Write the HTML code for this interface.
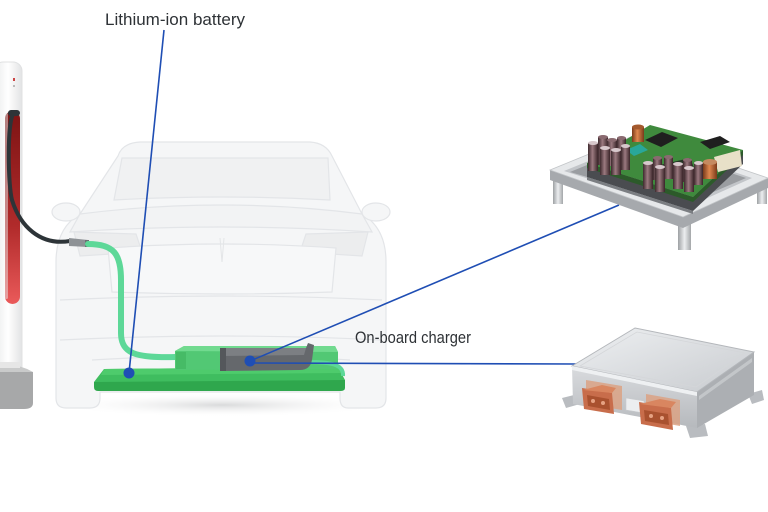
<!DOCTYPE html>
<html><head><meta charset="utf-8"><style>
html,body{margin:0;padding:0;background:#fff;}
svg{display:block;}
</style></head><body>
<svg width="768" height="512" viewBox="0 0 768 512" xmlns="http://www.w3.org/2000/svg">
<defs>
<linearGradient id="pole" x1="0" x2="1" y1="0" y2="0">
<stop offset="0" stop-color="#e9eaeb"/><stop offset="0.5" stop-color="#ffffff"/><stop offset="1" stop-color="#e2e3e4"/>
</linearGradient>
<linearGradient id="slot" x1="0" x2="0" y1="0" y2="1">
<stop offset="0" stop-color="#7d1414"/><stop offset="0.6" stop-color="#b12b2b"/><stop offset="1" stop-color="#ea5a5a"/>
</linearGradient>
<linearGradient id="leg" x1="0" x2="1"><stop offset="0" stop-color="#9da0a3"/><stop offset="0.5" stop-color="#eceef0"/><stop offset="1" stop-color="#a3a6a9"/></linearGradient>
<linearGradient id="cap" x1="0" x2="1"><stop offset="0" stop-color="#3e2a2e"/><stop offset="0.45" stop-color="#9c7a80"/><stop offset="1" stop-color="#3a2529"/></linearGradient>
<linearGradient id="ocap" x1="0" x2="1"><stop offset="0" stop-color="#7a3a1a"/><stop offset="0.45" stop-color="#e0884f"/><stop offset="1" stop-color="#7a3a1a"/></linearGradient>
<linearGradient id="boxtop" x1="0" x2="1" y1="0" y2="1"><stop offset="0" stop-color="#eef0f2"/><stop offset="1" stop-color="#c8cbcf"/></linearGradient>
<linearGradient id="boxfront" x1="0" x2="0" y1="0" y2="1"><stop offset="0" stop-color="#d9dbde"/><stop offset="1" stop-color="#b6b9bd"/></linearGradient>
<radialGradient id="shadow" cx="0.5" cy="0.5" r="0.5"><stop offset="0" stop-color="#d9dadb"/><stop offset="1" stop-color="#ffffff" stop-opacity="0"/></radialGradient>
</defs>

<!-- car shadow -->
<ellipse cx="222" cy="405" rx="170" ry="12" fill="url(#shadow)"/>

<!-- car (faint) -->
<g stroke="#e3e5e8" stroke-width="1.2" fill="#f5f6f7">
<path d="M118 156 Q122 143 140 142 L310 142 Q326 143 332 156 L362 214 Q386 228 386 262 L386 398 Q386 408 376 408 L348 408 Q340 408 340 398 L340 392 L100 392 L100 398 Q100 408 90 408 L66 408 Q56 408 56 398 L56 262 Q56 228 80 214 Z"/>
<path d="M122 158 L328 158 L330 200 Q222 194 114 200 Z" fill="#f0f1f2"/>
<path d="M80 214 Q222 196 362 214 L372 232 Q222 222 70 232 Z" fill="#f2f3f4"/>
<ellipse cx="66" cy="212" rx="14" ry="9"/>
<ellipse cx="376" cy="212" rx="14" ry="9"/>
<path d="M74 232 L136 234 L142 252 L80 256 Z" fill="#ecedee"/>
<path d="M306 234 L368 232 L362 256 L300 252 Z" fill="#ecedee"/>
<path d="M108 248 Q222 240 336 248 L332 292 Q222 296 112 292 Z" fill="#f7f8f9"/>
<path d="M60 300 Q222 292 382 300" fill="none"/>
<path d="M60 340 Q222 332 382 340" fill="none"/>
<path d="M92 360 Q222 352 350 360" fill="none"/>
</g>
<path d="M220 238 L222 262 L224 238" fill="none" stroke="#e3e5e7"/>

<!-- charging pole -->
<rect x="-6" y="62" width="28" height="318" rx="9" fill="url(#pole)" stroke="#e0e1e2"/>
<rect x="13" y="78" width="2" height="3" fill="#c44"/>
<rect x="13" y="85" width="2" height="2" fill="#bbb"/>
<rect x="5" y="111" width="15" height="193" rx="7.5" fill="url(#slot)"/>
<rect x="5" y="113" width="3" height="186" rx="1.5" fill="#e8e8e8" opacity="0.5"/>
<path d="M-2 372 L33 372 L33 403 Q33 409 24 409 L-2 409 Z" fill="#a7a8a9"/>
<path d="M-2 366 Q16 362 33 372 L-2 372 Z" fill="#c9caca"/>
<rect x="-2" y="362" width="22" height="6" fill="#e6e6e6"/>

<!-- black cable -->
<path d="M13 114 C7 125 8 185 12 200 C20 226 40 246 70 241" fill="none" stroke="#2d3438" stroke-width="4" stroke-linecap="round"/>
<rect x="8" y="110" width="12" height="6" rx="3" fill="#2d3438"/>
<!-- connector -->
<path d="M69 238 L88 240 L88 247 L69 246 Z" fill="#8e9296"/>
<rect x="85" y="240" width="4" height="7" fill="#6b6f73"/>

<!-- green cable -->
<path d="M88 244 C114 244 121 254 121 280 L121 333 C121 354 136 358 176 357" fill="none" stroke="#5dd898" stroke-width="6" stroke-linecap="round"/>

<!-- battery plate -->
<path d="M104 369 L338 367 L345 380 L345 388 L96 390 L94 382 Z" fill="#3fbd5f"/>
<path d="M94 382 L345 380 L345 388 Q345 391 340 391 L98 391 Q94 391 94 387 Z" fill="#2fa74d"/>
<path d="M104 369 L338 367 L342 373 L101 375 Z" fill="#4ecb6c"/>
<!-- raised block -->
<path d="M175 351 L184 346 L335 346 L338 352 L338 369 L175 370 Z" fill="#52c874"/>
<path d="M175 351 L184 346 L335 346 L338 352 Z" fill="#71da8f"/>
<rect x="176" y="352" width="10" height="17" fill="#46bb66"/>
<path d="M308 362 C330 362 344 364 343 376" fill="none" stroke="#5dd898" stroke-width="4"/>
<!-- gray module -->
<path d="M220 348 L306 348 L308 343 L314 345 L312 360 Q310 370 300 370 L222 371 Q220 371 220 367 Z" fill="#65686c"/>
<path d="M220 348 L306 348 L304 355 L222 356 Z" fill="#7c7f83"/>
<rect x="220" y="348" width="6" height="23" fill="#54575b"/>

<!-- leader lines -->
<g stroke="#1f4eb4" stroke-width="1.6" fill="none">
<line x1="164" y1="30" x2="129" y2="373"/>
<line x1="250" y1="361" x2="619" y2="205"/>
<line x1="250" y1="363" x2="578" y2="364"/>
</g>
<circle cx="129" cy="373" r="5.5" fill="#1f4eb4"/>
<circle cx="250" cy="361" r="5.5" fill="#1f4eb4"/>

<!-- labels -->
<text x="105" y="25" font-family="Liberation Sans, Arial, sans-serif" font-size="17" fill="#2e3236" textLength="140" lengthAdjust="spacingAndGlyphs">Lithium-ion battery</text>
<text x="355" y="343" font-family="Liberation Sans, Arial, sans-serif" font-size="16.5" fill="#2e3236" textLength="116" lengthAdjust="spacingAndGlyphs">On-board charger</text>

<!-- PCB module (top right) -->
<g>
<!-- legs -->
<rect x="553" y="176" width="10" height="28" fill="url(#leg)"/>
<rect x="678" y="222" width="13" height="28" fill="url(#leg)"/>
<rect x="757" y="182" width="10" height="22" fill="url(#leg)"/>
<!-- frame side -->
<path d="M550 170 L683 217 L768 178 L768 188 L683 228 L550 180 Z" fill="#a6a9ad"/>
<!-- frame top -->
<path d="M550 170 L638 134 L768 178 L683 217 Z" fill="#e6e8ea" stroke="#c2c5c8" stroke-width="0.8"/>
<path d="M564 171 L640 140 L752 178 L683 209 Z" fill="#c2c5c9"/>
<path d="M570 172 L641 143 L746 178 L683 205 Z" fill="#9a9da1"/>
<!-- dark block under PCB -->
<path d="M587 163 L693 197 L743 150 L743 164 L693 211 L587 177 Z" fill="#4a4c50"/>
<path d="M587 177 L693 211 L693 214 L587 180 Z" fill="#7b7e82"/>
<!-- PCB side -->
<path d="M587 163 L587 168 L693 202 L743 155 L743 150 L693 197 Z" fill="#2c5a2a"/>
<!-- PCB top -->
<path d="M587 163 L650 125 L743 150 L693 197 Z" fill="#3f8a3d"/>
<path d="M645 140 L662 132 L678 138 L661 147 Z" fill="#1f1f1f"/>
<path d="M626 150 L640 144 L648 150 L634 156 Z" fill="#29a79a"/>
<path d="M700 142 L720 136 L730 142 L710 149 Z" fill="#1f1f1f"/>
<path d="M714 157 L740 150 L742 166 L718 172 Z" fill="#e8e0c8"/>
<path d="M660 165 L690 158 L694 168 L666 174 Z" fill="#1f1f1f" opacity="0.8"/>
<!-- capacitors -->
<g>
<rect x="632" y="127" width="12" height="15" fill="url(#ocap)"/><ellipse cx="638" cy="127" rx="6" ry="2.5" fill="#a45a2e"/>
<rect x="703" y="162" width="14" height="17" fill="url(#ocap)"/><ellipse cx="710" cy="162" rx="7" ry="3" fill="#c58a60"/>
<rect x="617" y="138" width="9" height="24" fill="url(#cap)"/><ellipse cx="621.5" cy="138" rx="4.5" ry="2" fill="#8a6a70"/>
<rect x="598" y="137" width="10" height="28" fill="url(#cap)"/><ellipse cx="603" cy="137" rx="5" ry="2" fill="#8a6a70"/>
<rect x="607" y="140" width="10" height="26" fill="url(#cap)"/><ellipse cx="612" cy="140" rx="5" ry="2" fill="#8a6a70"/>
<rect x="588" y="143" width="10" height="28" fill="url(#cap)"/><ellipse cx="593" cy="143" rx="5" ry="2" fill="#d8c8cc"/>
<rect x="600" y="148" width="10" height="27" fill="url(#cap)"/><ellipse cx="605" cy="148" rx="5" ry="2" fill="#d8c8cc"/>
<rect x="611" y="150" width="10" height="25" fill="url(#cap)"/><ellipse cx="616" cy="150" rx="5" ry="2" fill="#d8c8cc"/>
<rect x="621" y="146" width="9" height="24" fill="url(#cap)"/><ellipse cx="625.5" cy="146" rx="4.5" ry="2" fill="#d8c8cc"/>
<rect x="653" y="158" width="9" height="22" fill="url(#cap)"/><ellipse cx="657.5" cy="158" rx="4.5" ry="2" fill="#8a6a70"/>
<rect x="664" y="157" width="9" height="22" fill="url(#cap)"/><ellipse cx="668.5" cy="157" rx="4.5" ry="2" fill="#8a6a70"/>
<rect x="683" y="160" width="9" height="22" fill="url(#cap)"/><ellipse cx="687.5" cy="160" rx="4.5" ry="2" fill="#8a6a70"/>
<rect x="643" y="163" width="10" height="26" fill="url(#cap)"/><ellipse cx="648" cy="163" rx="5" ry="2" fill="#d8c8cc"/>
<rect x="655" y="167" width="10" height="25" fill="url(#cap)"/><ellipse cx="660" cy="167" rx="5" ry="2" fill="#d8c8cc"/>
<rect x="673" y="164" width="10" height="25" fill="url(#cap)"/><ellipse cx="678" cy="164" rx="5" ry="2" fill="#d8c8cc"/>
<rect x="684" y="168" width="10" height="24" fill="url(#cap)"/><ellipse cx="689" cy="168" rx="5" ry="2" fill="#d8c8cc"/>
<rect x="694" y="163" width="9" height="22" fill="url(#cap)"/><ellipse cx="698.5" cy="163" rx="4.5" ry="2" fill="#d8c8cc"/>
</g>
</g>

<!-- charger box (bottom right) -->
<g>
<!-- feet / flanges -->
<path d="M562 398 L574 395 L580 404 L566 408 Z" fill="#b9bcc0"/>
<path d="M686 426 L705 424 L708 436 L690 438 Z" fill="#b9bcc0"/>
<path d="M748 394 L762 390 L764 400 L752 404 Z" fill="#b9bcc0"/>
<!-- front face -->
<path d="M572 366 L697 392 L697 428 L573 404 Z" fill="url(#boxfront)"/>
<!-- right face -->
<path d="M697 392 L754 352 L754 395 L697 428 Z" fill="#acafb3"/>
<path d="M699 396 L752 358 L752 362 L699 400 Z" fill="#c3c6c9"/>
<!-- top -->
<path d="M572 366 L635 328 L754 352 L697 392 Z" fill="url(#boxtop)" stroke="#b4b7bb" stroke-width="1"/>
<path d="M580 366 L637 332 L745 353 L696 387 Z" fill="none" stroke="#d4d6d9" stroke-width="0.8"/>
<!-- lip -->
<path d="M572 366 L697 392 L697 396 L572 370 Z" fill="#eef0f2"/>
<!-- connector 1 -->
<path d="M586 380 L622 386 L622 410 L586 404 Z" fill="#dba284" opacity="0.85"/>
<path d="M582 388 L612 393 L614 414 L584 409 Z" fill="#c86d4b"/>
<path d="M583 390 L602 385 L616 388 L612 393 Z" fill="#d98660"/>
<path d="M587 395 L609 399 L610 410 L588 406 Z" fill="#a9512f"/>
<circle cx="593" cy="401" r="2" fill="#e6a283"/><circle cx="603" cy="403" r="2" fill="#e6a283"/>
<!-- middle part -->
<path d="M626 398 L644 401 L644 413 L626 410 Z" fill="#eceef0" stroke="#c8cacd" stroke-width="0.6"/>
<!-- connector 2 -->
<path d="M646 394 L680 400 L680 426 L646 420 Z" fill="#dba284" opacity="0.85"/>
<path d="M639 402 L671 408 L673 430 L641 424 Z" fill="#c86d4b"/>
<path d="M640 404 L660 399 L676 402 L671 408 Z" fill="#d98660"/>
<path d="M644 410 L668 414 L669 425 L645 421 Z" fill="#a9512f"/>
<circle cx="651" cy="416" r="2" fill="#e6a283"/><circle cx="662" cy="418" r="2" fill="#e6a283"/>
</g>
</svg>
</body></html>
